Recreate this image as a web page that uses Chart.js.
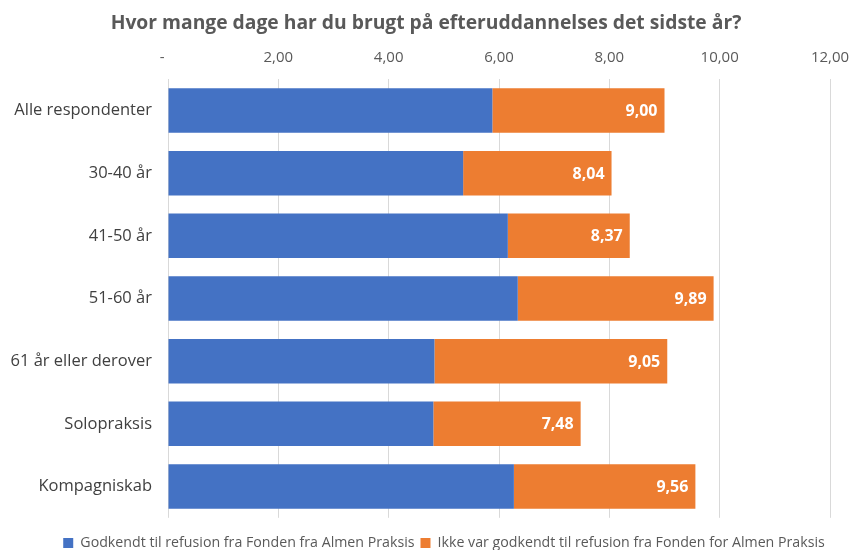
<!DOCTYPE html>
<html>
<head>
<meta charset="utf-8">
<script src="https://cdn.jsdelivr.net/npm/chart.js@4"></script>
<style>
  html, body { margin: 0; padding: 0; background: #fff; overflow: hidden; }
  #wrap { width: 853px; height: 550px; }
</style>
</head>
<body>
<div id="wrap"><canvas id="chart" width="853" height="550"></canvas></div>
<script>
// Data
const categories = ['Alle respondenter', '30-40 år', '41-50 år', '51-60 år', '61 år eller derover', 'Solopraksis', 'Kompagniskab'];
const approvedDays = [5.88, 5.35, 6.16, 6.34, 4.83, 4.81, 6.27];
const notApprovedDays = [3.12, 2.69, 2.21, 3.55, 4.22, 2.67, 3.29];
const totalDays = [9.00, 8.04, 8.37, 9.89, 9.05, 7.48, 9.56];
const xTicks = [0, 2, 4, 6, 8, 10, 12];

const FONT = "'Open Sans', 'Liberation Sans', sans-serif";

// white total labels at the end of the orange segment
const totalLabels = {
    id: 'totalLabels',
    afterDatasetsDraw(chart) {
        const meta = chart.getDatasetMeta(1);
        const ctx = chart.ctx;
        ctx.save();
        ctx.fillStyle = '#ffffff';
        ctx.font = "bold 16px " + FONT;
        ctx.textAlign = 'right';
        ctx.textBaseline = 'middle';
        meta.data.forEach((bar, i) => {
            ctx.fillText(totalDays[i].toFixed(2).replace('.', ','), bar.x - 7, bar.y + 1);
        });
        ctx.restore();
    }
};

// the original has its legend low and a bit to the right, title slightly right too
const boxNudge = {
    id: 'boxNudge',
    afterLayout(chart) {
        const lg = chart.legend;
        if (lg) {
            lg.top += 12; lg.bottom += 12;
            lg.left += 29; lg.right += 29;
        }
        const tb = chart.titleBlock;
        if (tb) { tb.left += 11; tb.right += 11; }
    }
};

new Chart(document.getElementById('chart').getContext('2d'), {
    type: 'bar',
    data: {
        labels: categories,
        datasets: [{
            label: 'Godkendt til refusion fra Fonden fra Almen Praksis',
            data: approvedDays,
            backgroundColor: '#4472C4',
            categoryPercentage: 1,
            barPercentage: 0.71
        }, {
            label: 'Ikke var godkendt til refusion fra Fonden for Almen Praksis',
            data: notApprovedDays,
            backgroundColor: '#ED7D31',
            categoryPercentage: 1,
            barPercentage: 0.71
        }]
    },
    options: {
        indexAxis: 'y',
        responsive: false,
        animation: false,
        layout: { padding: { left: 0, right: 23, top: 12, bottom: 2 } },
        plugins: {
            title: {
                display: true,
                text: 'Hvor mange dage har du brugt på efteruddannelses det sidste år?',
                color: '#595959',
                font: { family: FONT, size: 19.3, weight: 'bold' },
                padding: { top: 0, bottom: 2 }
            },
            legend: {
                position: 'bottom',
                labels: {
                    color: '#595959',
                    font: { family: FONT, size: 14.2 },
                    boxWidth: 10,
                    boxHeight: 10,
                    padding: 6
                }
            },
            tooltip: { enabled: false }
        },
        scales: {
            x: {
                position: 'top',
                stacked: true,
                min: 0,
                max: 12,
                afterBuildTicks: scale => { scale.ticks = xTicks.map(v => ({ value: v })); },
                afterFit: scale => { scale.paddingLeft = 0; scale.paddingRight = 0; },
                ticks: {
                    color: '#595959',
                    font: { family: FONT, size: 15 },
                    padding: 12,
                    callback: v => v === 0 ? '-   ' : v.toFixed(2).replace('.', ',')
                },
                grid: { color: '#d9d9d9', drawTicks: false },
                border: { display: false }
            },
            y: {
                stacked: true,
                afterFit: scale => { scale.width = 168; },
                ticks: {
                    color: '#404040',
                    font: { family: FONT, size: 16.5 },
                    padding: 8
                },
                grid: { display: false },
                border: { display: false }
            }
        }
    },
    plugins: [totalLabels, boxNudge]
});
</script>
</body>
</html>
